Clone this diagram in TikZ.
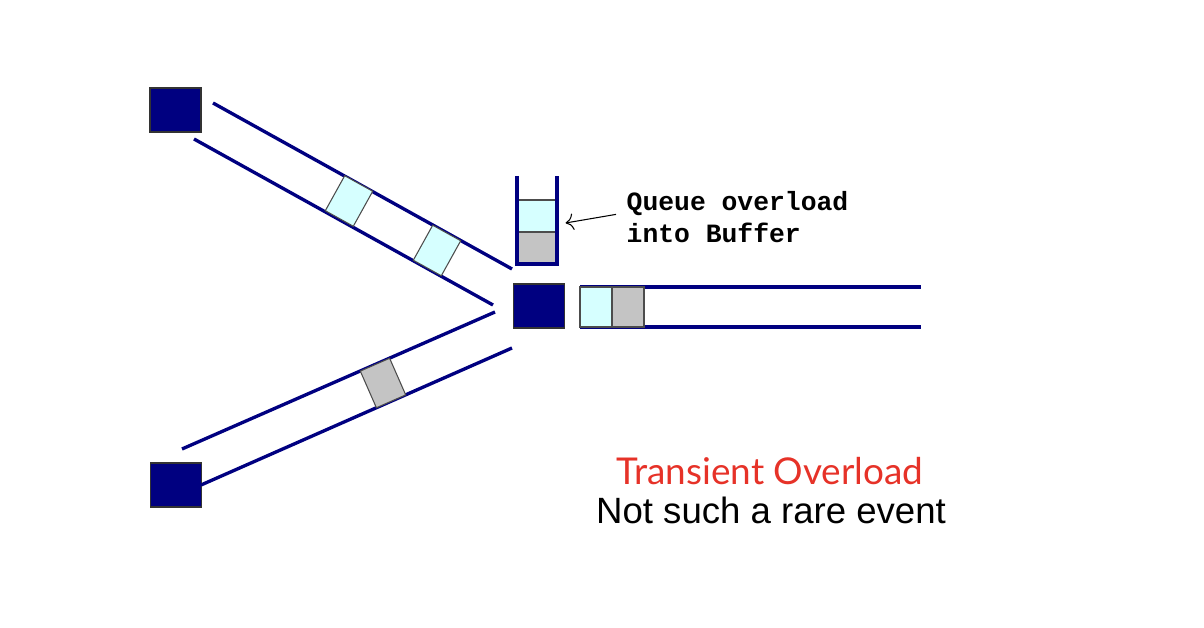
\documentclass[tikz,border=0pt]{standalone}
\usepackage{fontspec}
\usepackage{tikz}
\usetikzlibrary{arrows.meta}
\newfontfamily\queuefont{Liberation Mono}
\newfontfamily\titlefont{Lato}
\newfontfamily\notefont{Liberation Sans}
\definecolor{routerblue}{RGB}{0,0,128}
\definecolor{pktcyan}{RGB}{214,255,255}
\definecolor{pktgray}{RGB}{196,196,196}
\definecolor{overred}{RGB}{230,50,40}

\begin{document}
\begin{tikzpicture}[x=0.01cm,y=-0.01cm,
    router/.style={draw=black!80,fill=routerblue,minimum width=0.51cm,minimum height=0.44cm,inner sep=0pt},
    link/.style={routerblue,line width=0.95pt},
    packet/.style={draw=black!70,line width=0.3pt,minimum width=0.32cm,minimum height=0.40cm,inner sep=0pt},
    newpkt/.style={packet,fill=pktcyan},
    oldpkt/.style={packet,fill=pktgray}]
    \useasboundingbox (0,0) rectangle (1204,628);
    \node[router] (r1) at (175.5,110) {};
    \node[router] (r2) at (176,485) {};
    \node[router] (r0) at (539,306) {};
    \coordinate (a1) at (213,103); \coordinate (a2) at (512,269);
    \coordinate (b1) at (194,139); \coordinate (b2) at (493,305);
    \coordinate (c1) at (182,449); \coordinate (c2) at (495,312);
    \coordinate (d1) at (201,485); \coordinate (d2) at (512,348);
    \coordinate (e1) at (580,287); \coordinate (e2) at (921,287);
    \coordinate (f1) at (580,327); \coordinate (f2) at (921,327);
    \draw[link] (a1) -- (a2);
    \draw[link] (b1) -- (b2);
    \draw[link] (c1) -- (c2);
    \draw[link] (d1) -- (d2);
    \draw[link] (e1) -- (e2);
    \draw[link] (f1) -- (f2);
    \node[newpkt,rotate=-29] (p1) at (349,201) {};
    \node[newpkt,rotate=-29] (p2) at (437,250.5) {};
    \node[oldpkt,rotate=23.7] (p3) at (383,383) {};
    \node[newpkt] (o1) at (596,307) {};
    \node[oldpkt] (o2) at (628,307) {};
    \node[newpkt,minimum width=0.40cm,minimum height=0.32cm] (q1) at (537,216) {};
    \node[oldpkt,minimum width=0.40cm,minimum height=0.32cm] (q2) at (537,248) {};
    \draw[link] (517,176) -- (517,264) -- (557,264) -- (557,176);
    \node[anchor=north west,inner sep=0pt,align=left,font=\queuefont\bfseries\fontsize{7.5}{9.1}\selectfont] (qlabel) at (626,191) {Queue overload\\into Buffer};
    \draw[->,line width=0.3pt] ([xshift=-0.1cm,yshift=0.03cm]qlabel.west) -- ([xshift=0.08cm,yshift=-0.07cm]q1.east);
    \node[anchor=base,text=overred,font=\titlefont\fontsize{10.5}{12}\selectfont] (title) at (770,484) {Transient Overload};
    \node[anchor=base,font=\notefont\fontsize{10.4}{12}\selectfont] (note) at (771,523) {Not such a rare event};
\end{tikzpicture}
\end{document}
